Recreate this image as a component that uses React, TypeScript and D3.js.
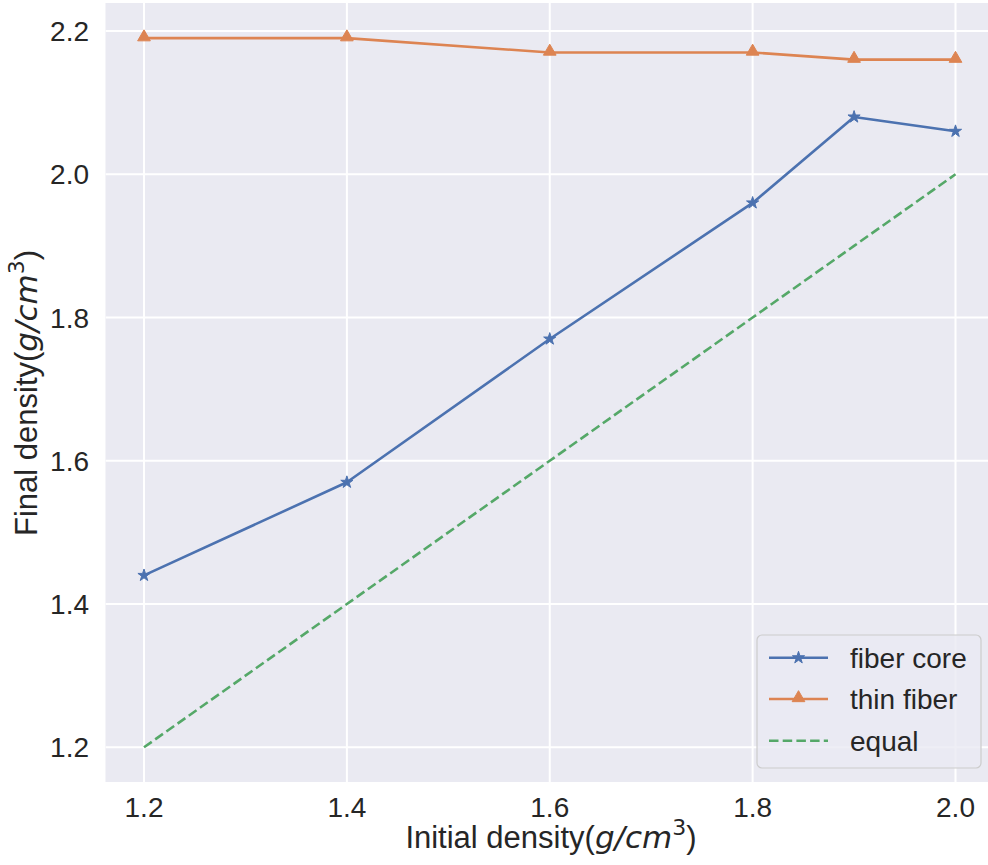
import React from "react";
import * as d3 from "d3";

const initialDensity = [1.2, 1.4, 1.6, 1.8, 1.9, 2.0];
const fiberCore = [1.44, 1.57, 1.77, 1.96, 2.08, 2.06];
const thinFiber = [2.19, 2.19, 2.17, 2.17, 2.16, 2.16];
const equalLine = [1.2, 1.4, 1.6, 1.8, 1.9, 2.0];
const xTicks = [1.2, 1.4, 1.6, 1.8, 2.0];
const yTicks = [1.2, 1.4, 1.6, 1.8, 2.0, 2.2];
const seriesNames = ["fiber core", "thin fiber", "equal"];
const seriesColors = ["#4C72B0", "#DD8452", "#55A868"];

const W = 988;
const H = 865;
const plot = { left: 105.5, top: 3, right: 998, bottom: 782 };
const FONT = "'Liberation Sans', Arial, sans-serif";
const MATH = "'DejaVu Sans', sans-serif";

export default function App() {
  const x = d3.scaleLinear().domain([1.2, 2.0]).range([144, 955.5]);
  const y = d3.scaleLinear().domain([1.2, 2.2]).range([747.3, 31]);

  const line = d3
    .line<[number, number]>()
    .x((d) => x(d[0]))
    .y((d) => y(d[1]));

  const core = initialDensity.map((v, i) => [v, fiberCore[i]] as [number, number]);
  const thin = initialDensity.map((v, i) => [v, thinFiber[i]] as [number, number]);
  const eq = initialDensity.map((v, i) => [v, equalLine[i]] as [number, number]);

  const star = d3.symbol(d3.symbolStar, 46)();
  const tri = d3.symbol(d3.symbolTriangle, 70)();

  const lw = 2.6;
  const dash = "9.5,4.2";

  const legendX = 757;
  const legendY = 635;
  const legendRows = [657.7, 699, 740.7];

  return (
    <svg
      width={W}
      height={H}
      style={{ position: "absolute", left: 0, top: 0, background: "#fff" }}
    >
      <defs>
        <clipPath id="pc">
          <rect x={plot.left} y={plot.top} width={plot.right - plot.left} height={plot.bottom - plot.top} />
        </clipPath>
      </defs>
      <rect x={0} y={0} width={W} height={H} fill="#fff" />
      <rect
        x={plot.left}
        y={plot.top}
        width={plot.right - plot.left}
        height={plot.bottom - plot.top}
        fill="#EAEAF2"
      />
      <g clipPath="url(#pc)">
        {xTicks.map((t) => (
          <line key={"gx" + t} x1={x(t)} x2={x(t)} y1={plot.top} y2={plot.bottom} stroke="#fff" strokeWidth={2} />
        ))}
        {yTicks.map((t) => (
          <line key={"gy" + t} x1={plot.left} x2={plot.right} y1={y(t)} y2={y(t)} stroke="#fff" strokeWidth={2} />
        ))}
        <path d={line(eq) || ""} fill="none" stroke={seriesColors[2]} strokeWidth={lw} strokeDasharray={dash} />
        <path d={line(core) || ""} fill="none" stroke={seriesColors[0]} strokeWidth={lw} strokeLinejoin="round" />
        {core.map((d, i) => (
          <path key={"s" + i} d={star || ""} transform={`translate(${x(d[0])},${y(d[1])})`} fill={seriesColors[0]} stroke={seriesColors[0]} strokeWidth={1} />
        ))}
        <path d={line(thin) || ""} fill="none" stroke={seriesColors[1]} strokeWidth={lw} strokeLinejoin="round" />
        {thin.map((d, i) => (
          <path key={"t" + i} d={tri || ""} transform={`translate(${x(d[0])},${y(d[1]) - 1})`} fill={seriesColors[1]} stroke={seriesColors[1]} strokeWidth={1} />
        ))}
      </g>

      {xTicks.map((t) => (
        <text key={"xt" + t} x={x(t)} y={817} textAnchor="middle" fontFamily={FONT} fontSize={28} fill="#262626">
          {d3.format(".1f")(t)}
        </text>
      ))}
      {yTicks.map((t) => (
        <text key={"yt" + t} x={89} y={y(t)} dy="0.36em" textAnchor="end" fontFamily={FONT} fontSize={28} fill="#262626">
          {d3.format(".1f")(t)}
        </text>
      ))}

      <text x={551} y={848} textAnchor="middle" fontFamily={FONT} fontSize={31} fill="#262626">
        Initial density(
        <tspan fontFamily={MATH} fontStyle="italic">g/cm</tspan>
        <tspan fontFamily={MATH} fontSize={22} dy={-13}>3</tspan>
        <tspan dy={13}>)</tspan>
      </text>
      <text
        transform={`translate(37,${393}) rotate(-90)`}
        textAnchor="middle"
        fontFamily={FONT}
        fontSize={31}
        fill="#262626"
      >
        Final density(
        <tspan fontFamily={MATH} fontStyle="italic">g/cm</tspan>
        <tspan fontFamily={MATH} fontSize={22} dy={-13}>3</tspan>
        <tspan dy={13}>)</tspan>
      </text>

      <rect
        x={legendX}
        y={legendY}
        width={224}
        height={133}
        rx={5}
        fill="#EAEAF2"
        fillOpacity={0.8}
        stroke="#cccccc"
        strokeWidth={1.2}
      />
      {seriesNames.map((n, i) => (
        <g key={n}>
          <line
            x1={769}
            x2={828}
            y1={legendRows[i]}
            y2={legendRows[i]}
            stroke={seriesColors[i]}
            strokeWidth={lw}
            strokeDasharray={i === 2 ? dash : undefined}
          />
          {i === 0 && (
            <path d={star || ""} transform={`translate(798.5,${legendRows[i]})`} fill={seriesColors[0]} stroke={seriesColors[0]} strokeWidth={1} />
          )}
          {i === 1 && (
            <path d={tri || ""} transform={`translate(798.5,${legendRows[i] - 1})`} fill={seriesColors[1]} stroke={seriesColors[1]} strokeWidth={1} />
          )}
          <text x={850} y={legendRows[i]} dy="0.36em" fontFamily={FONT} fontSize={28} fill="#262626">
            {n}
          </text>
        </g>
      ))}
    </svg>
  );
}
